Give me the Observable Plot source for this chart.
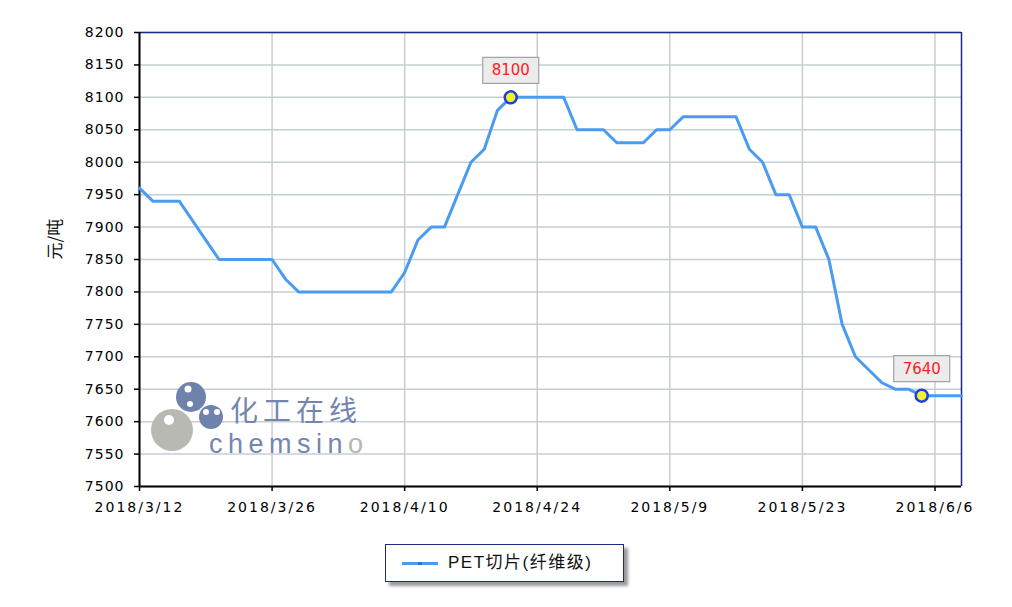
<!DOCTYPE html>
<html><head><meta charset="utf-8">
<script src="https://cdn.jsdelivr.net/npm/d3@7"></script>
<script src="https://cdn.jsdelivr.net/npm/@observablehq/plot@0.6"></script>
<style>
body{margin:0;background:#fff;width:1012px;height:607px;overflow:hidden;position:relative;font-family:"DejaVu Sans",sans-serif}
#chart{position:absolute;left:0;top:0}
#chart svg g[aria-label="y-axis tick label"] text{letter-spacing:1px}
#chart svg g[aria-label="x-axis tick label"] text{letter-spacing:2px}
#wm{position:absolute;left:0;top:0;pointer-events:none}
#legend{position:absolute;left:385px;top:544px;width:237px;height:36px;border:1.5px solid #1b2b86;box-shadow:4px 4px 3px #9a9a9a;background:#fff}
#legend .sw{position:absolute;left:16px;top:17px;width:36px;height:3px;background:#4a9cf2}
#legend .sw i{position:absolute;left:16px;top:0;width:4px;height:3px;background:#2b6fd0}
#legend .tx{position:absolute;left:62px;top:6px;font-family:"Liberation Sans","Noto Sans CJK SC",sans-serif;font-size:17px;letter-spacing:1.5px;color:#111;line-height:24px}
</style></head><body>
<div id="chart"></div>
<svg id="wm" width="1012" height="607">
  <circle cx="172" cy="430" r="21" fill="#b8b9b2"/>
  <circle cx="169" cy="420" r="5" fill="#fff"/>
  <circle cx="191" cy="397" r="15" fill="#6f82ab"/>
  <circle cx="188" cy="389" r="3.5" fill="#fff"/>
  <circle cx="190" cy="404" r="3" fill="#fff"/>
  <circle cx="211" cy="417" r="12" fill="#6f82ab"/>
  <circle cx="206" cy="412" r="3" fill="#fff"/>
  <circle cx="217" cy="412" r="3" fill="#fff"/>
  <text x="230" y="421" font-family="Noto Sans CJK SC" font-size="28" fill="#7386b0" letter-spacing="5">化工在线</text>
  <text x="209" y="453" font-family="Liberation Sans" font-size="27" fill="#7386b0" letter-spacing="5.5">chemsin<tspan fill="#b6b7b0">o</tspan></text>
</svg>
<div id="legend"><span class="sw"><i></i></span><span class="tx" id="legtext"></span></div>
<script>
const dates = [
 "2018/3/12","2018/3/13","2018/3/14","2018/3/15","2018/3/16","2018/3/19","2018/3/20","2018/3/21","2018/3/22","2018/3/23",
 "2018/3/26","2018/3/27","2018/3/28","2018/3/29","2018/3/30","2018/4/2","2018/4/3","2018/4/4","2018/4/8","2018/4/9",
 "2018/4/10","2018/4/11","2018/4/12","2018/4/13","2018/4/16","2018/4/17","2018/4/18","2018/4/19","2018/4/20","2018/4/23",
 "2018/4/24","2018/4/25","2018/4/26","2018/4/27","2018/4/28","2018/5/2","2018/5/3","2018/5/4","2018/5/7","2018/5/8",
 "2018/5/9","2018/5/10","2018/5/11","2018/5/14","2018/5/15","2018/5/16","2018/5/17","2018/5/18","2018/5/21","2018/5/22",
 "2018/5/23","2018/5/24","2018/5/25","2018/5/28","2018/5/29","2018/5/30","2018/5/31","2018/6/1","2018/6/4","2018/6/5",
 "2018/6/6","2018/6/7","2018/6/8"
];
const prices = [
 7960,7940,7940,7940,7910,7880,7850,7850,7850,7850,
 7850,7820,7800,7800,7800,7800,7800,7800,7800,7800,
 7830,7880,7900,7900,7950,8000,8020,8080,8100,8100,
 8100,8100,8100,8050,8050,8050,8030,8030,8030,8050,
 8050,8070,8070,8070,8070,8070,8020,8000,7950,7950,
 7900,7900,7850,7750,7700,7680,7660,7650,7650,7640,
 7640,7640,7640
];
const xTickLabels = ["2018/3/12","2018/3/26","2018/4/10","2018/4/24","2018/5/9","2018/5/23","2018/6/6"];
const yTicks = [7500,7550,7600,7650,7700,7750,7800,7850,7900,7950,8000,8050,8100,8150,8200];
const highlightDates = ["2018/4/20","2018/6/5"];
const seriesName = "PET切片(纤维级)";
const yLabel = "元/吨";

const data = dates.map((d, i) => ({date: d, price: prices[i]}));
const marked = data.filter(d => highlightDates.includes(d.date));
const boxSymbol = {draw(ctx) { ctx.rect(-28, -13, 56, 26); }};

const chart = Plot.plot({
  width: 1012, height: 530,
  marginLeft: 139, marginRight: 51, marginTop: 32, marginBottom: 44,
  style: {fontFamily: "DejaVu Sans", fontSize: "14px", color: "#000", background: "transparent"},
  x: {type: "point", domain: dates, padding: 0, round: false},
  y: {domain: [7500, 8200]},
  marks: [
    Plot.ruleY(yTicks, {stroke: "#c5cfd3", strokeWidth: 1.5}),
    Plot.ruleX(xTickLabels, {stroke: "#c5cfd3", strokeWidth: 1.5}),
    Plot.ruleY([8200], {stroke: "#1b2b86", strokeWidth: 1.5}),
    Plot.ruleX([dates[dates.length - 1]], {stroke: "#1b2b86", strokeWidth: 1.5}),
    Plot.ruleY([7500], {stroke: "#000", strokeWidth: 2}),
    Plot.ruleX([dates[0]], {stroke: "#000", strokeWidth: 2}),
    Plot.axisY({ticks: yTicks, tickFormat: d => String(d), tickSize: 5, tickPadding: 10, label: null, fontSize: 14, stroke: "#000", strokeWidth: 1.5}),
    Plot.axisX({ticks: xTickLabels, tickSize: 5, tickPadding: 11, label: null, fontSize: 14, stroke: "#000", strokeWidth: 1.5}),
    Plot.text([yLabel], {frameAnchor: "left", dx: -84, rotate: -90, fontSize: 17, fontFamily: "Noto Sans CJK SC", fill: "#111"}),
    Plot.lineY(data, {x: "date", y: "price", stroke: "#4a9cf2", strokeWidth: 3}),
    Plot.dot(marked, {x: "date", y: "price", symbol: boxSymbol, fill: "#ececec", stroke: "#a0a4a6", strokeWidth: 1.2, dy: -27}),
    Plot.text(marked, {x: "date", y: "price", text: d => String(d.price), fill: "#ff1a1a", dy: -27, fontSize: 15, fontFamily: "DejaVu Sans"}),
    Plot.dot(marked, {x: "date", y: "price", r: 6, fill: "#eef22e", stroke: "#1f3fd6", strokeWidth: 2.5})
  ]
});
document.getElementById("chart").appendChild(chart);
document.getElementById("legtext").textContent = seriesName;
</script>
</body></html>
